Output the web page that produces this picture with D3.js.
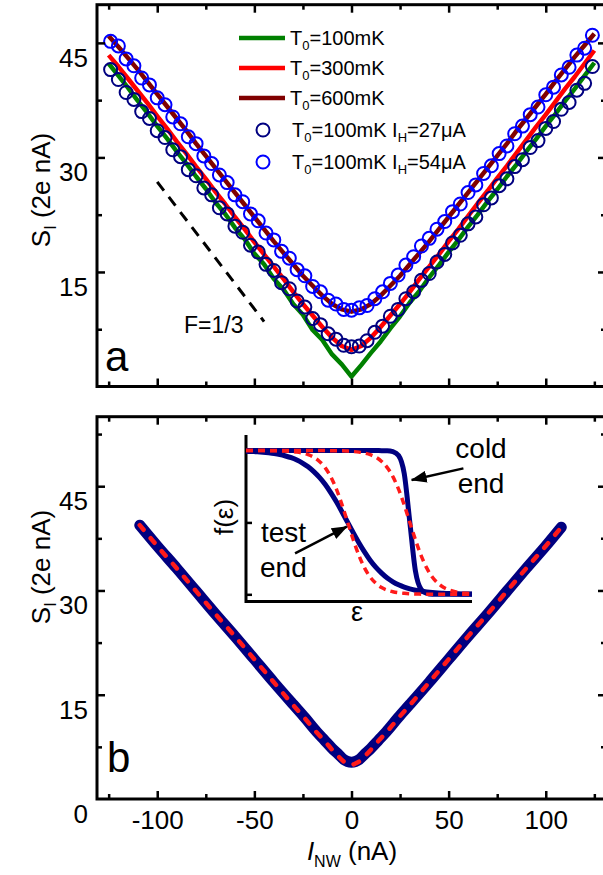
<!DOCTYPE html>
<html>
<head>
<meta charset="utf-8">
<script src="https://cdn.jsdelivr.net/npm/d3@7"></script>
<style>
  body { margin: 0; background: #fff; }
  svg { display: block; font-family: "Liberation Sans", Arial, sans-serif; }
</style>
</head>
<body>
<svg class="shot_noise" width="603" height="875"></svg>
<script>
// ---- Panel a: measured noise (2e nA) vs current (nA) ----
var lineCurrents = [-125, -120, -115, -110, -105, -100, -95, -90, -85, -80, -75, -70, -65, -60, -55, -50, -45, -40, -35, -30, -25, -20, -15, -10, -5,
    0, 5, 10, 15, 20, 25, 30, 35, 40, 45, 50, 55, 60, 65, 70, 75, 80, 85, 90, 95, 100, 105, 110, 115, 120, 125];
var noise100mK = [42.3, 40.7, 39.1, 37.4, 35.8, 34.1, 32.5, 30.8, 29.2, 27.5, 25.9, 24.1, 22.6, 20.8, 19.3, 17.4, 16.0, 14.1, 12.7, 10.8, 9.4, 7.4, 6.1, 4.2, 2.9,
    1.3, 2.8, 4.4, 5.9, 7.6, 9.2, 11.0, 12.5, 14.3, 15.9, 17.6, 19.2, 20.9, 22.5, 24.2, 25.8, 27.5, 29.1, 30.8, 32.4, 34.1, 35.7, 37.4, 39.0, 40.7, 42.4];
var noise300mK = [43.4, 41.9, 40.3, 38.7, 37.1, 35.4, 33.8, 32.1, 30.5, 28.8, 27.2, 25.5, 23.9, 22.2, 20.6, 18.9, 17.3, 15.7, 14.1, 12.4, 10.8, 9.3, 7.8, 6.4, 5.3,
    4.8, 5.3, 6.4, 7.8, 9.3, 10.8, 12.4, 14.1, 15.7, 17.3, 19.0, 20.6, 22.3, 24.0, 25.6, 27.3, 28.9, 30.6, 32.3, 34.0, 35.6, 37.3, 39.0, 40.6, 42.3, 44.0];
var noise600mK = [45.9, 44.5, 43.0, 41.5, 39.9, 38.3, 36.7, 35.1, 33.5, 31.8, 30.2, 28.6, 27.0, 25.4, 23.8, 22.2, 20.6, 19.0, 17.5, 16.0, 14.5, 13.2, 11.9, 10.8, 10.1,
    9.8, 10.1, 10.8, 11.9, 13.2, 14.5, 16.0, 17.5, 19.0, 20.6, 22.2, 23.8, 25.4, 27.0, 28.6, 30.2, 31.8, 33.5, 35.1, 36.7, 38.3, 40.0, 41.6, 43.2, 44.7, 46.2];

var circleCurrents = [-124, -120, -116, -112, -108, -104, -100, -96, -92, -88, -84, -80, -76, -72, -68, -64, -60, -56, -52, -48, -44, -40, -36, -32, -28, -24, -20, -16, -12, -8, -4,
    0, 4, 8, 12, 16, 20, 24, 28, 32, 36, 40, 44, 48, 52, 56, 60, 64, 68, 72, 76, 80, 84, 88, 92, 96, 100, 104, 108, 112, 116, 120, 124];
var noiseHeat27 = [41.5, 40.2, 38.5, 37.6, 36.0, 35.1, 33.5, 32.6, 31.0, 30.1, 28.4, 27.6, 26.0, 25.1, 23.4, 22.6, 21.0, 20.2, 18.5, 17.6, 16.0, 15.2, 13.6, 12.8, 11.2, 10.4, 8.9, 8.1, 6.9, 6.2, 5.4,
    5.2, 5.3, 6.0, 7.1, 7.9, 9.2, 10.1, 11.5, 12.4, 13.9, 14.8, 16.3, 17.3, 18.8, 19.8, 21.3, 22.2, 23.8, 24.7, 26.3, 27.2, 28.8, 29.7, 31.3, 32.2, 33.8, 34.7, 36.3, 37.2, 38.8, 39.7, 41.9];
var noiseHeat54 = [45.2, 44.6, 42.9, 42.0, 40.4, 39.5, 37.8, 36.9, 35.3, 34.4, 32.7, 31.8, 30.2, 29.2, 27.7, 26.7, 25.1, 24.2, 22.6, 21.7, 20.1, 19.2, 17.7, 16.8, 15.3, 14.5, 13.1, 12.4, 11.3, 10.8, 10.1,
    10.0, 10.3, 10.6, 11.5, 12.4, 13.5, 14.6, 15.9, 17.0, 18.4, 19.4, 20.6, 21.6, 22.9, 23.9, 25.4, 26.4, 27.9, 28.9, 30.5, 31.5, 33.1, 34.1, 35.6, 36.6, 38.2, 39.2, 40.8, 41.8, 43.4, 44.3, 46.0];

// F=1/3 guide line (two end points)
var guideCurrents = [-100, -45];
var guideNoise = [26.8, 8.5];

// ---- Panel b: calculated noise ----
var calcCurrents = [-109, -100, -90, -80, -70, -60, -50, -40, -30, -24, -18, -14, -10, -7, -4, -2, 0, 2, 4, 7, 10, 14, 18, 24, 30, 40, 50, 60, 70, 80, 90, 100, 108];
var calcNoise = [39.4, 36.4, 33.2, 29.9, 26.6, 23.4, 20.1, 16.8, 13.6, 11.7, 9.7, 8.5, 7.3, 6.5, 5.7, 5.4, 5.3, 5.4, 5.7, 6.5, 7.3, 8.5, 9.7, 11.7, 13.6, 16.8, 20.1, 23.4, 26.6, 29.9, 33.2, 36.4, 39.1];
var fitNoise = [39.4, 36.4, 33.2, 29.9, 26.6, 23.4, 20.1, 16.8, 13.5, 11.6, 9.6, 8.4, 7.1, 6.2, 5.4, 5.1, 4.9, 5.1, 5.4, 6.2, 7.1, 8.4, 9.6, 11.6, 13.5, 16.8, 20.1, 23.4, 26.6, 29.9, 33.2, 36.4, 39.1];

// ---- Inset: distribution functions f(e) ----
var energies = [0, 0.25, 0.5, 0.75, 1, 1.25, 1.5, 1.75, 2, 2.25, 2.5, 2.75, 3, 3.25, 3.5, 3.75, 4, 4.25, 4.5, 4.75, 5,
    5.25, 5.5, 5.75, 6, 6.25, 6.5, 6.75, 7, 7.25, 7.5, 7.75, 8, 8.25, 8.5, 8.75, 9, 9.25, 9.5, 9.75, 10];
var fTestEnd = [0.995, 0.993, 0.991, 0.988, 0.984, 0.979, 0.972, 0.962, 0.950, 0.934, 0.913, 0.887, 0.853, 0.813, 0.765, 0.707, 0.643, 0.573, 0.5, 0.427, 0.357,
    0.293, 0.235, 0.187, 0.147, 0.113, 0.087, 0.066, 0.050, 0.038, 0.028, 0.021, 0.016, 0.012, 0.009, 0.007, 0.005, 0.004, 0.003, 0.002, 0.002];
var fColdEnd = [1, 1, 1, 1, 1, 1, 1, 1, 1, 1, 1, 1, 1, 1, 1, 1, 1, 1, 1, 1, 1,
    1, 1, 1, 0.999, 0.999, 0.993, 0.966, 0.841, 0.5, 0.159, 0.034, 0.007, 0.001, 0, 0, 0, 0, 0, 0, 0];
var fTestFit = [1, 1, 1, 1, 0.999, 0.999, 0.998, 0.996, 0.993, 0.989, 0.982, 0.971, 0.953, 0.924, 0.881, 0.818, 0.731, 0.622, 0.5, 0.378, 0.269,
    0.182, 0.119, 0.076, 0.047, 0.029, 0.018, 0.011, 0.007, 0.004, 0.002, 0.001, 0, 0, 0, 0, 0, 0, 0, 0, 0];
var fColdFit = [1, 1, 1, 1, 1, 1, 1, 1, 1, 1, 1, 1, 1, 1, 1, 0.999, 0.998, 0.998, 0.996, 0.993, 0.989,
    0.982, 0.971, 0.953, 0.924, 0.881, 0.818, 0.731, 0.622, 0.5, 0.378, 0.269, 0.182, 0.119, 0.076, 0.047, 0.029, 0.018, 0.011, 0.007, 0.004];

// Tick values
var majorCurrentTicks = [-100, -50, 0, 50, 100];
var minorCurrentTicks = [-125, -75, -25, 25, 75, 125];
var majorNoiseTicks = [15, 30, 45];
var minorNoiseTicks = [7.5, 22.5, 37.5, 52.5];
var insetTicks = [0, 0.5, 1];

var svg = d3.select("svg.shot_noise");

// Scales
var x = d3.scaleLinear().domain([-131, 131]).range([97, 606]);
var yTop = d3.scaleLinear().domain([0, 50]).range([386.5, 4.7]);
var yBottom = d3.scaleLinear().domain([0, 55]).range([799, 416.7]);
var ex = d3.scaleLinear().domain([0, 10]).range([246, 472]);
var fy = d3.scaleLinear().domain([-0.05, 1.108]).range([601.5, 435]);

function zipped(xs, ys) {
    return xs.map(function(d, i) { return [d, ys[i]]; });
}

// ===== Panel a =====
var lineTop = d3.line()
    .x(function(d) { return x(d[0]); })
    .y(function(d) { return yTop(d[1]); });

var gA = svg.append("g");

gA.append("path")
    .datum(zipped(guideCurrents, guideNoise))
    .attr("d", lineTop)
    .attr("fill", "none")
    .attr("stroke", "#000")
    .attr("stroke-width", 3)
    .attr("stroke-dasharray", "11,8");

var topLines = [
    { values: noise100mK, colour: "#008000" },
    { values: noise300mK, colour: "#ff0000" },
    { values: noise600mK, colour: "#800000" }
];

gA.selectAll("path.curve")
    .data(topLines)
    .enter()
    .append("path")
    .attr("class", "curve")
    .attr("d", function(d) { return lineTop(zipped(lineCurrents, d.values)); })
    .attr("fill", "none")
    .attr("stroke", function(d) { return d.colour; })
    .attr("stroke-width", 4.5)
    .attr("stroke-linejoin", "round");

var topCircles = [
    { values: noiseHeat27, colour: "#000080" },
    { values: noiseHeat54, colour: "#0000ff" }
];

topCircles.forEach(function(s) {
    gA.append("g")
        .selectAll("circle")
        .data(zipped(circleCurrents, s.values))
        .enter()
        .append("circle")
        .attr("cx", function(d) { return x(d[0]); })
        .attr("cy", function(d) { return yTop(d[1]); })
        .attr("r", 6.5)
        .attr("fill", "none")
        .attr("stroke", s.colour)
        .attr("stroke-width", 2);
});

// Legend
var legend = [
    { kind: "line", colour: "#008000", text: "=100mK", heater: null },
    { kind: "line", colour: "#ff0000", text: "=300mK", heater: null },
    { kind: "line", colour: "#800000", text: "=600mK", heater: null },
    { kind: "circle", colour: "#000080", text: "=100mK I", heater: "=27\u03bcA" },
    { kind: "circle", colour: "#0000ff", text: "=100mK I", heater: "=54\u03bcA" }
];
var legendRows = [38, 68, 98, 130, 162];

legend.forEach(function(d, i) {
    var cy = legendRows[i];
    if (d.kind === "line") {
        gA.append("line")
            .attr("x1", 239).attr("x2", 285)
            .attr("y1", cy).attr("y2", cy)
            .attr("stroke", d.colour)
            .attr("stroke-width", 4.5);
    } else {
        gA.append("circle")
            .attr("cx", 263).attr("cy", cy)
            .attr("r", 6.5)
            .attr("fill", "none")
            .attr("stroke", d.colour)
            .attr("stroke-width", 2);
    }
    var t = gA.append("text")
        .attr("x", d.kind === "line" ? 290 : 292)
        .attr("y", cy + 7)
        .attr("font-size", 20);
    t.append("tspan").text("T");
    t.append("tspan").attr("font-size", 13).attr("dy", 5).text("0");
    t.append("tspan").attr("dy", -5).text(d.text);
    if (d.heater) {
        t.append("tspan").attr("font-size", 13).attr("dy", 5).text("H");
        t.append("tspan").attr("dy", -5).text(d.heater);
    }
});

gA.append("text")
    .attr("x", 184).attr("y", 333)
    .attr("font-size", 23)
    .text("F=1/3");

gA.append("text")
    .attr("x", 105).attr("y", 371)
    .attr("font-size", 42)
    .text("a");

// ===== Panel b =====
var lineBottom = d3.line()
    .x(function(d) { return x(d[0]); })
    .y(function(d) { return yBottom(d[1]); })
    .curve(d3.curveMonotoneX);

var gB = svg.append("g");

gB.append("path")
    .datum(zipped(calcCurrents, calcNoise))
    .attr("d", lineBottom)
    .attr("fill", "none")
    .attr("stroke", "#000080")
    .attr("stroke-width", 11)
    .attr("stroke-linecap", "round")
    .attr("stroke-linejoin", "round");

gB.append("path")
    .datum(zipped(calcCurrents, fitNoise))
    .attr("d", lineBottom)
    .attr("fill", "none")
    .attr("stroke", "#ff1a1a")
    .attr("stroke-width", 4.5)
    .attr("stroke-linecap", "round")
    .attr("stroke-dasharray", "6,11");

gB.append("text")
    .attr("x", 107).attr("y", 772)
    .attr("font-size", 42)
    .text("b");

// Inset
var gI = svg.append("g");

var lineInset = d3.line()
    .x(function(d) { return ex(d[0]); })
    .y(function(d) { return fy(d[1]); })
    .curve(d3.curveMonotoneX);

gI.append("path")
    .attr("d", "M" + ex(0) + "," + fy(1.108) + "V" + fy(-0.05) + "H" + ex(10))
    .attr("fill", "none")
    .attr("stroke", "#000")
    .attr("stroke-width", 3);

gI.append("g")
    .attr("transform", "translate(" + ex(0) + ",0)")
    .call(d3.axisRight(fy).tickValues(insetTicks).tickSize(6).tickFormat(""))
    .call(function(g) { g.select(".domain").remove(); })
    .selectAll("line")
    .attr("stroke-width", 2.5);

[fTestEnd, fColdEnd].forEach(function(vals) {
    gI.append("path")
        .datum(zipped(energies, vals))
        .attr("d", lineInset)
        .attr("fill", "none")
        .attr("stroke", "#000080")
        .attr("stroke-width", 5);
});
[fTestFit, fColdFit].forEach(function(vals) {
    gI.append("path")
        .datum(zipped(energies, vals))
        .attr("d", lineInset)
        .attr("fill", "none")
        .attr("stroke", "#ff1a1a")
        .attr("stroke-width", 3.5)
        .attr("stroke-dasharray", "7,5");
});

// arrows
svg.append("defs").append("marker")
    .attr("id", "head")
    .attr("markerUnits", "userSpaceOnUse")
    .attr("markerWidth", 16).attr("markerHeight", 12)
    .attr("refX", 15).attr("refY", 6)
    .attr("orient", "auto")
    .append("path")
    .attr("d", "M0,0L16,6L0,12Z")
    .attr("fill", "#000");

var arrows = [
    { from: [9.62, 0.876], to: [7.33, 0.795] },
    { from: [2.17, 0.285], to: [4.46, 0.47] }
];
arrows.forEach(function(a) {
    gI.append("line")
        .attr("x1", ex(a.from[0])).attr("y1", fy(a.from[1]))
        .attr("x2", ex(a.to[0])).attr("y2", fy(a.to[1]))
        .attr("stroke", "#000")
        .attr("stroke-width", 2.5)
        .attr("marker-end", "url(#head)");
});

gI.append("text").attr("x", 481).attr("y", 458).attr("font-size", 28).attr("text-anchor", "middle").text("cold");
gI.append("text").attr("x", 481).attr("y", 493).attr("font-size", 28).attr("text-anchor", "middle").text("end");
gI.append("text").attr("x", 261).attr("y", 542).attr("font-size", 28).text("test");
gI.append("text").attr("x", 260).attr("y", 577).attr("font-size", 28).text("end");
gI.append("text").attr("x", 357).attr("y", 621).attr("font-size", 27).attr("text-anchor", "middle").text("\u03b5");
gI.append("text")
    .attr("transform", "translate(233,517) rotate(-90)")
    .attr("font-size", 26)
    .attr("text-anchor", "middle")
    .text("f(\u03b5)");

// ===== Frames, ticks and labels =====
function frame(y, minorTicks) {
    var g = svg.append("g");
    var y0 = y.range()[0], y1 = y.range()[1];
    var x0 = x.range()[0], x1 = x.range()[1];

    [[majorCurrentTicks, 8], [minorCurrentTicks, 5]].forEach(function(t) {
        g.append("g").attr("transform", "translate(0," + y0 + ")")
            .call(d3.axisBottom(x).tickValues(t[0]).tickSize(-t[1]).tickFormat(""));
        g.append("g").attr("transform", "translate(0," + y1 + ")")
            .call(d3.axisTop(x).tickValues(t[0]).tickSize(-t[1]).tickFormat(""));
    });
    [[majorNoiseTicks, 8], [minorTicks, 5]].forEach(function(t) {
        g.append("g").attr("transform", "translate(" + x0 + ",0)")
            .call(d3.axisLeft(y).tickValues(t[0]).tickSize(-t[1]).tickFormat(""));
        g.append("g").attr("transform", "translate(" + x1 + ",0)")
            .call(d3.axisRight(y).tickValues(t[0]).tickSize(-t[1]).tickFormat(""));
    });
    g.selectAll(".domain").remove();
    g.selectAll(".tick line").attr("stroke", "#000").attr("stroke-width", 2.5);

    g.append("rect")
        .attr("x", x0).attr("y", y1)
        .attr("width", x1 - x0).attr("height", y0 - y1)
        .attr("fill", "none")
        .attr("stroke", "#000")
        .attr("stroke-width", 3);
    return g;
}

function noiseLabels(y, values) {
    var g = svg.append("g")
        .attr("transform", "translate(" + x.range()[0] + ",0)")
        .call(d3.axisLeft(y).tickValues(values).tickSize(0).tickPadding(9).tickFormat(String));
    g.select(".domain").remove();
    g.selectAll("text")
        .attr("font-size", 26)
        .attr("font-family", "Liberation Sans, Arial, sans-serif")
        .attr("fill", "#000")
        .attr("y", 15);
}

function noiseTitle(cy) {
    var t = svg.append("text")
        .attr("transform", "translate(50," + cy + ") rotate(-90)")
        .attr("text-anchor", "middle")
        .attr("font-size", 26);
    t.append("tspan").text("S");
    t.append("tspan").attr("font-size", 16).attr("dy", 6).text("I");
    t.append("tspan").attr("dy", -6).text(" (2e nA)");
}

frame(yTop, minorNoiseTicks.slice(0, 3));
frame(yBottom, minorNoiseTicks);

noiseLabels(yTop, majorNoiseTicks);
noiseLabels(yBottom, [0].concat(majorNoiseTicks));
noiseTitle(190);
noiseTitle(567);

var xl = svg.append("g")
    .attr("transform", "translate(0," + yBottom.range()[0] + ")")
    .call(d3.axisBottom(x).tickValues(majorCurrentTicks).tickSize(0).tickPadding(12).tickFormat(String));
xl.select(".domain").remove();
xl.selectAll("text")
    .attr("font-size", 26)
    .attr("font-family", "Liberation Sans, Arial, sans-serif")
    .attr("fill", "#000");

var xt = svg.append("text")
    .attr("x", 352).attr("y", 860)
    .attr("text-anchor", "middle")
    .attr("font-size", 26);
xt.append("tspan").attr("font-style", "italic").text("I");
xt.append("tspan").attr("font-size", 16).attr("dy", 7).text("NW");
xt.append("tspan").attr("dy", -7).text(" (nA)");
</script>
</body>
</html>
